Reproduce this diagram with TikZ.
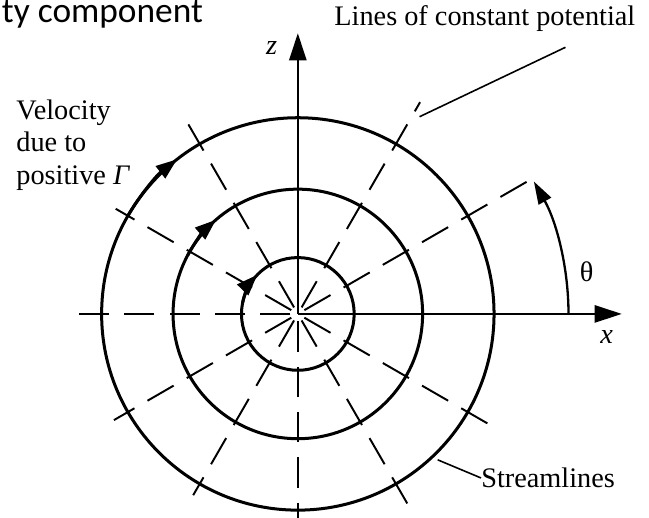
\documentclass[tikz,border=0pt]{standalone}
\usepackage{fontspec}
\setmainfont{Liberation Serif}
\newfontfamily\slidefont{Carlito}
\usetikzlibrary{arrows.meta}

\tikzset{
  stream/.style={line width=1.7pt},
  potline/.style={line width=1.1pt, dash pattern=on 0.6cm off 0.3cm},
  leader/.style={line width=0.9pt},
  axis/.style={line width=1.3pt, -{Triangle[length=0.54cm,width=0.34cm]}},
  flow/.style={stream, -{Triangle[length=0.42cm,width=0.3cm]}},
  lbl/.style={font=\fontsize{16}{18.4}\selectfont, inner sep=0pt},
}

\begin{document}
\begin{tikzpicture}[scale=1.0]
	\useasboundingbox (-5.92,-4.04) rectangle (6.98,6.24);
	\coordinate (O) at (0,0);
	% lines of constant potential
	\foreach \a/\r in {30/5.44,60/4.86,120/4.36,150/4.18,180/4.38,210/4.22,240/4.16,270/4.1,300/4.56,330/4.4}
		\draw[potline] (\a:0.15) -- (\a:\r);
	% streamlines
	\foreach \r in {1.12,2.48,3.9}
		\draw[stream] (O) circle (\r);
	\draw[flow] (150:3.9) arc (150:128:3.9);
	\draw[flow] (152:2.48) arc (152:131:2.48);
	\draw[flow] (168:1.12) arc (168:136:1.12);
	% axes
	\coordinate (xend) at (6.44,0);
	\coordinate (zend) at (0,5.58);
	\draw[axis] (O) -- (xend);
	\draw[axis] (O) -- (zend);
	\node[lbl] (xlab) at (6.14,-0.46) {\textit{x}};
	\node[lbl] (zlab) at (-0.52,5.28) {\textit{z}};
	% angle
	\draw[line width=1.3pt,-{Triangle[length=0.45cm,width=0.28cm]}] (0:5.38) arc (0:29.3:5.38);
	\node[lbl] (theta) at (5.74,0.84) {θ};
	% labels
	\node[lbl,anchor=west] (pot) at (0.72,5.88) {Lines of constant potential};
	\coordinate (potA) at (5.32,5.3);
	\coordinate (potB) at (2.42,3.92);
	\draw[leader] (potA) -- (potB);
	\node[lbl,anchor=west,align=left] (vel) at (-5.6,3.36) {Velocity\\due to\\positive \textit{Γ}};
	\node[lbl,anchor=west] (stream) at (3.64,-3.26) {Streamlines};
	\coordinate (streamA) at (2.78,-2.9);
	\draw[leader] (streamA) -- (stream.west);
	\node[font=\slidefont\fontsize{20}{24}\selectfont,inner sep=0pt,anchor=base east] (title) at (-1.88,5.8) {ty component};
\end{tikzpicture}
\end{document}
